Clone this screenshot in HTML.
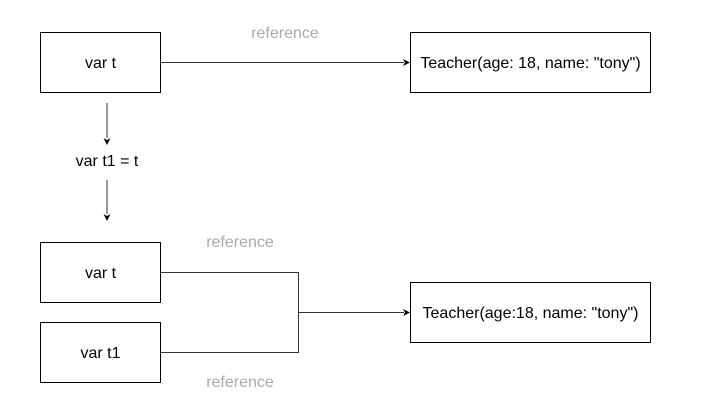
<!DOCTYPE html>
<html><head><style>
html,body{margin:0;padding:0;background:#fff;}
svg{display:block;}
text{font-family:"Liberation Sans",Arial,sans-serif;font-size:16px;}
</style></head><body>
<svg width="709" height="414" viewBox="0 0 709 414" xmlns="http://www.w3.org/2000/svg">
<g fill="#fff" stroke="#000" stroke-width="1">
<rect x="40.5" y="32.5" width="120" height="60"/>
<rect x="410.5" y="32.5" width="240" height="60"/>
<rect x="40.5" y="242.5" width="120" height="60"/>
<rect x="40.5" y="322.5" width="120" height="60"/>
<rect x="410.5" y="282.5" width="240" height="60"/>
</g>
<g stroke="#333" stroke-width="1" fill="none">
<path d="M160.5 62.5H404"/>
<path d="M107 103V138"/>
<path d="M107 180V214"/>
<path d="M160.5 272.5H298.5V352.5H160.5"/>
<path d="M298.5 312.5H404"/>
</g>
<g fill="#000">
<path d="M410 62.5l-7 -3.5l2 3.5l-2 3.5z"/>
<path d="M410 312.5l-7 -3.5l2 3.5l-2 3.5z"/>
<path d="M107 145l-3.5 -7l3.5 2l3.5 -2z"/>
<path d="M107 221l-3.5 -7l3.5 2l3.5 -2z"/>
</g>
<g text-anchor="middle">
<text x="100.5" y="68">var t</text>
<text x="530.5" y="68">Teacher(age: 18, name: "tony")</text>
<text x="107" y="166">var t1 = t</text>
<text x="100.5" y="278">var t</text>
<text x="100.5" y="358">var t1</text>
<text x="530.5" y="318">Teacher(age:18, name: "tony")</text>
<text x="285" y="38" fill="#aaa">reference</text>
<text x="240" y="247" fill="#aaa">reference</text>
<text x="240" y="387" fill="#aaa">reference</text>
</g>
</svg>
</body></html>
